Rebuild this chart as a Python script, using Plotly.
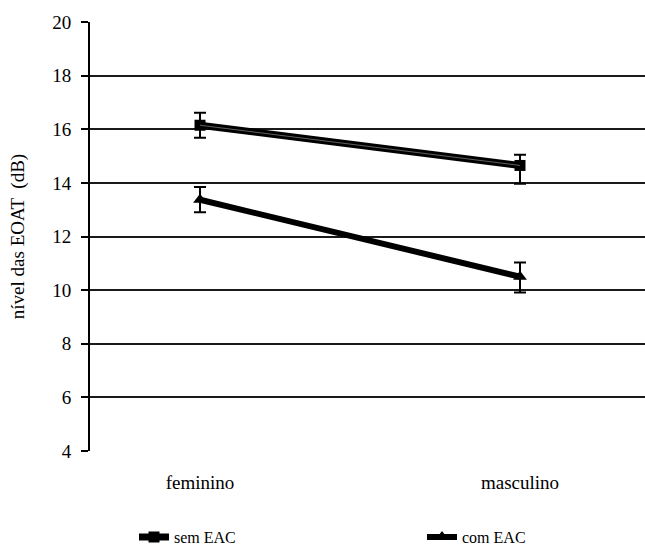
import plotly.graph_objects as go

categories = ["feminino", "masculino"]
sem_eac = [16.15, 14.65]
sem_err_plus = [0.47, 0.40]
sem_err_minus = [0.47, 0.68]
com_eac = [13.37, 10.5]
com_err_plus = [0.48, 0.53]
com_err_minus = [0.47, 0.59]
y_ticks = [4, 6, 8, 10, 12, 14, 16, 18, 20]

xpos = list(range(len(categories)))
font = "Liberation Serif, Times New Roman, serif"

fig = go.Figure()
fig.add_trace(go.Scatter(
    x=xpos, y=sem_eac, name="sem EAC", mode="lines+markers", legend="legend",
    line=dict(color="black", width=7),
    marker=dict(symbol="square", size=11, color="black"),
    error_y=dict(type="data", symmetric=False, array=sem_err_plus, arrayminus=sem_err_minus,
                 color="black", thickness=2, width=6),
))
fig.add_trace(go.Scatter(
    x=xpos, y=sem_eac, mode="lines", showlegend=False, hoverinfo="skip",
    line=dict(color="#606060", width=1),
))
fig.add_trace(go.Scatter(
    x=xpos, y=com_eac, name="com EAC", mode="lines+markers", legend="legend2",
    line=dict(color="black", width=6),
    marker=dict(symbol="triangle-up", size=12, color="black"),
    error_y=dict(type="data", symmetric=False, array=com_err_plus, arrayminus=com_err_minus,
                 color="black", thickness=2, width=6),
))

legend_common = dict(orientation="h", xref="container", yref="container",
                     y=0.018, yanchor="middle", xanchor="left",
                     bgcolor="rgba(0,0,0,0)",
                     font=dict(family=font, size=16, color="black"))

fig.update_layout(
    width=645, height=547,
    margin=dict(l=90, r=0, t=22, b=96, autoexpand=False),
    plot_bgcolor="white", paper_bgcolor="white",
    font=dict(family=font, size=19, color="black"),
    showlegend=True,
    legend=dict(x=134/645, **legend_common),
    legend2=dict(x=422/645, **legend_common),
    xaxis=dict(
        range=[-110/320, 1 + 125/320],
        tickmode="array", tickvals=xpos, ticktext=categories,
        showgrid=False, zeroline=False, showline=False,
        ticks="", ticklabelstandoff=18,
        tickfont=dict(family=font, size=19),
    ),
    yaxis=dict(
        range=[4, 20], tickmode="array", tickvals=y_ticks,
        showgrid=True, gridcolor="#1a1a1a", gridwidth=2,
        zeroline=False, showline=True, linecolor="black", linewidth=2,
        ticks="outside", ticklen=7, tickwidth=2, tickcolor="black",
        ticklabelstandoff=6,
        tickfont=dict(family=font, size=19),
        title=dict(text="nível das EOAT  (dB)", font=dict(family=font, size=19), standoff=23),
    ),
)

fig.write_html("out.html")
